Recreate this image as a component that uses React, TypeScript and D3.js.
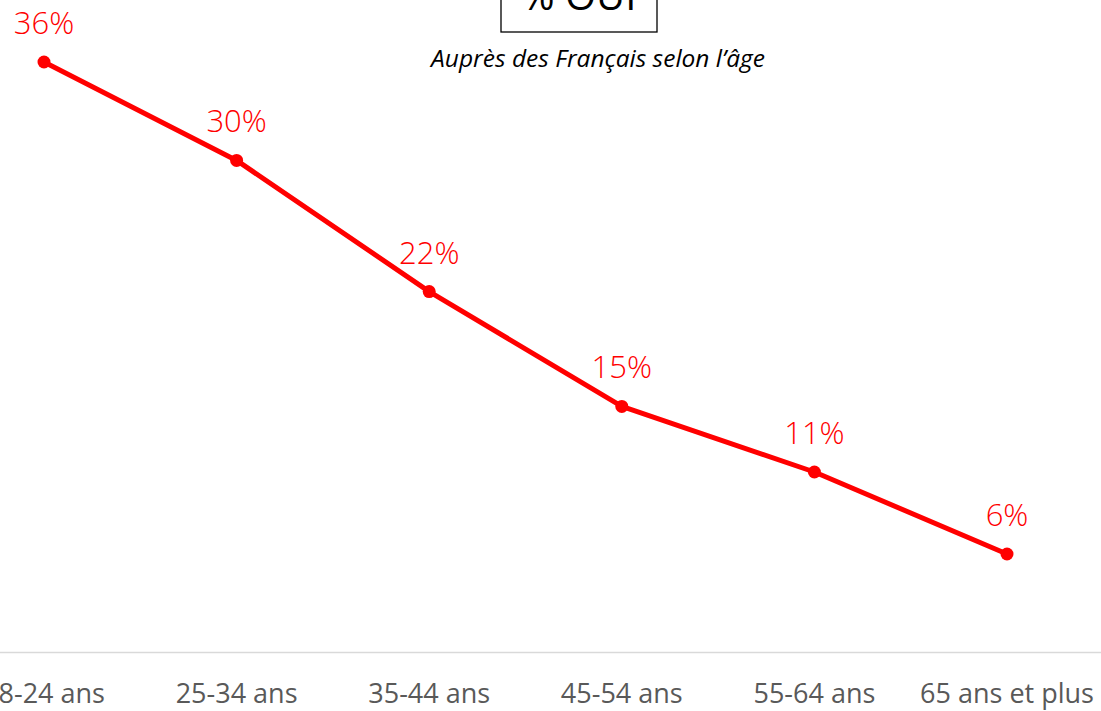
import React, { useEffect } from "react";
import * as d3 from "d3";

const categories = ["18-24 ans", "25-34 ans", "35-44 ans", "45-54 ans", "55-64 ans", "65 ans et plus"];
const values = [36, 30, 22, 15, 11, 6];
const title = "% OUI";
const subtitle = "Auprès des Français selon l’âge";

const W = 1101;
const H = 711;
const FONT = "'Open Sans', 'Segoe UI', sans-serif";

export default function App() {
  useEffect(() => {
    document.body.style.margin = "0";
  }, []);

  const x = d3.scalePoint<string>().domain(categories).range([44, 1007]);
  const y = d3.scaleLinear().domain([0, 36]).range([652.4, 62]);
  const line = d3
    .line<number>()
    .x((_, i) => x(categories[i]) as number)
    .y((d) => y(d));

  return (
    <svg width={W} height={H} style={{ display: "block" }}>
      <rect width={W} height={H} fill="#fff" />
      <rect x={501} y={-40} width={156} height={72} fill="none" stroke="#000" strokeWidth={1.3} />
      <text x={579} y={10} textAnchor="middle" fontFamily={FONT} fontSize={40} fill="#000">
        {title}
      </text>
      <text x={598} y={67} textAnchor="middle" fontFamily={FONT} fontStyle="italic" fontSize={24.5} fill="#000">
        {subtitle}
      </text>
      <line x1={0} x2={W} y1={y(0)} y2={y(0)} stroke="#d9d9d9" strokeWidth={1.5} />
      {categories.map((c) => (
        <text key={c} x={x(c)} y={703} textAnchor="middle" fontFamily={FONT} fontSize={27} fill="#595959">
          {c}
        </text>
      ))}
      <path d={line(values) || ""} fill="none" stroke="#ff0000" strokeWidth={5} strokeLinejoin="round" />
      {values.map((v, i) => (
        <g key={i}>
          <circle cx={x(categories[i])} cy={y(v)} r={6.5} fill="#ff0000" />
          <text x={x(categories[i])} y={y(v) - 28} textAnchor="middle" fontFamily={FONT} fontSize={31} fontWeight={300} fill="#ff0000">
            {v}%
          </text>
        </g>
      ))}
    </svg>
  );
}
